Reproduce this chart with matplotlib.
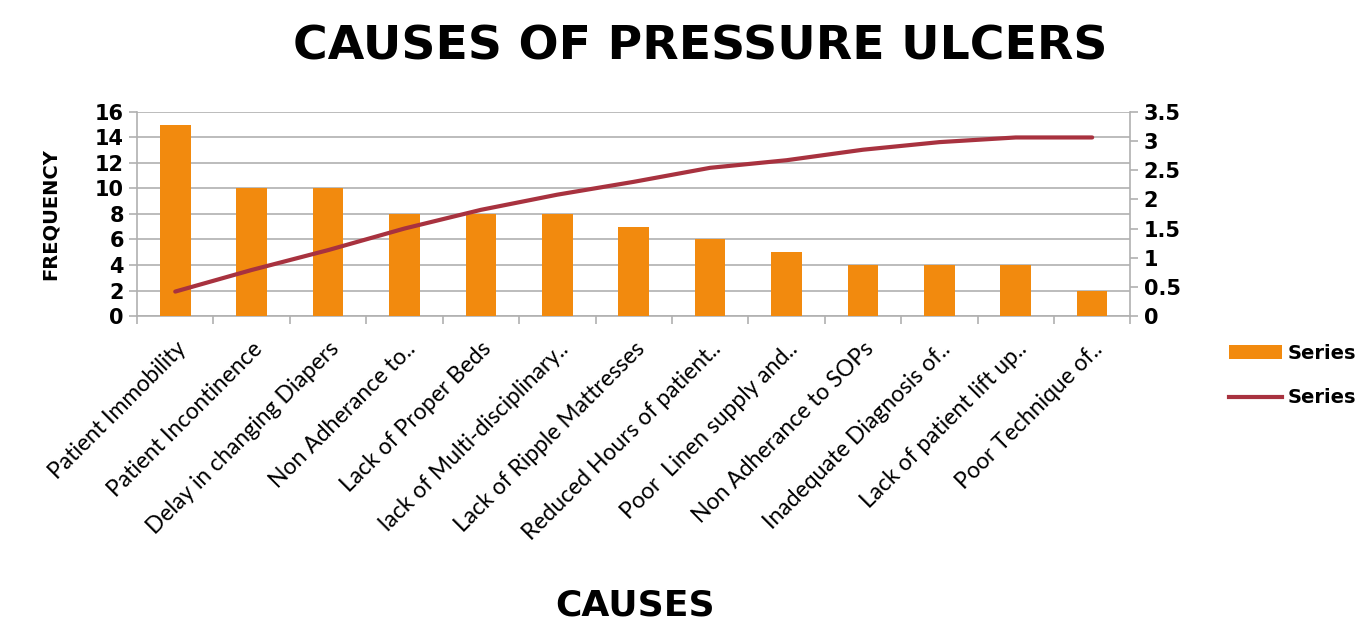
import matplotlib.pyplot as plt
import numpy as np
from matplotlib.patches import Patch
from matplotlib.lines import Line2D

causes = [
    "Patient Immobility",
    "Patient Incontinence",
    "Delay in changing Diapers",
    "Non Adherance to..",
    "Lack of Proper Beds",
    "lack of Multi-disciplinary..",
    "Lack of Ripple Mattresses",
    "Reduced Hours of patient..",
    "Poor  Linen supply and..",
    "Non Adherance to SOPs",
    "Inadequate Diagnosis of..",
    "Lack of patient lift up..",
    "Poor Technique of..",
]
frequency = [15, 10, 10, 8, 8, 8, 7, 6, 5, 4, 4, 4, 2]
cumulative = [0.42, 0.79, 1.13, 1.5, 1.82, 2.08, 2.3, 2.54, 2.67, 2.85, 2.98, 3.06, 3.06]

orange = "#F28A0E"
red = "#A8323F"
grey = "#B0B0B0"

fig = plt.figure(figsize=(13.57, 6.21), dpi=100)
ax = fig.add_axes([0.101, 0.491, 0.732, 0.329])
x = np.arange(len(causes))

ax.bar(x, frequency, width=0.4, color=orange, zorder=3)
ax.set_xlim(-0.5, len(causes) - 0.5)
ax.set_ylim(0, 16)
ax.set_yticks(range(0, 17, 2))
ax.yaxis.grid(True, color=grey, linewidth=1.2, zorder=0)

ax.set_xticks(x)
ax.set_xticklabels(causes, rotation=45, ha="right", rotation_mode="anchor",
                   fontsize=16.5, family="Lato")
ax.set_xticks(np.arange(-0.5, len(causes), 1), minor=True)
ax.tick_params(axis="x", which="major", length=0, pad=16)
ax.tick_params(axis="x", which="minor", length=6, color=grey, width=1.2)
ax.tick_params(axis="y", length=6, color=grey, width=1.2, labelsize=15)
for lab in ax.get_yticklabels():
    lab.set_fontweight("bold")

for side in ["top", "right"]:
    ax.spines[side].set_visible(False)
for side in ["left", "bottom"]:
    ax.spines[side].set_color(grey)
    ax.spines[side].set_linewidth(1.2)

ax2 = ax.twinx()
ax2.plot(x, cumulative, color=red, linewidth=3, solid_capstyle="round", zorder=4)
ax2.set_ylim(0, 3.5)
ax2.set_yticks(np.arange(0, 3.6, 0.5))
ax2.set_yticklabels(["0", "0.5", "1", "1.5", "2", "2.5", "3", "3.5"])
ax2.tick_params(axis="y", length=6, color=grey, width=1.2, labelsize=15)
for lab in ax2.get_yticklabels():
    lab.set_fontweight("bold")
for side in ["top", "left", "bottom"]:
    ax2.spines[side].set_visible(False)
ax2.spines["right"].set_color(grey)
ax2.spines["right"].set_linewidth(1.2)

fig.text(0.516, 0.925, "CAUSES OF PRESSURE ULCERS", ha="center", va="center",
         fontsize=34, fontweight="heavy")
fig.text(0.468, 0.025, "CAUSES", ha="center", va="center",
         fontsize=26, fontweight="heavy")
fig.text(0.037, 0.655, "FREQUENCY", ha="center", va="center", rotation=90,
         fontsize=14, fontweight="heavy")

handles = [Patch(facecolor=orange), Line2D([0], [0], color=red, linewidth=3)]
fig.legend(handles, ["Series", "Series"], loc="center left",
           bbox_to_anchor=(0.906, 0.395), frameon=False, borderpad=0,
           borderaxespad=0, prop={"weight": "bold", "size": 14},
           labelspacing=1.3, handlelength=2.7, handletextpad=0.3)

fig.savefig("out.png", dpi=100)
